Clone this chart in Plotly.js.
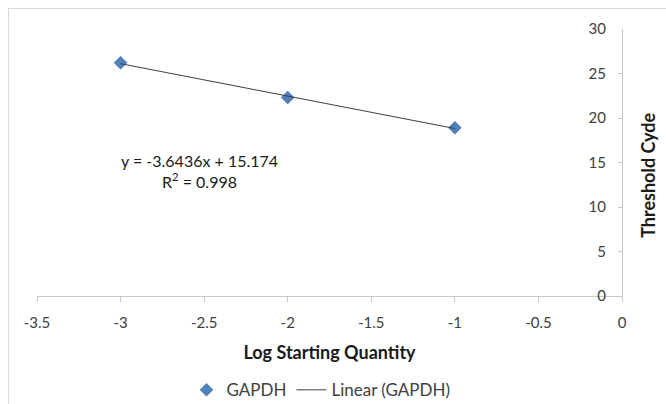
<!DOCTYPE html>
<html><head><meta charset="utf-8">
<script src="https://cdn.plot.ly/plotly-3.0.1.min.js"></script>
<style>
html,body{margin:0;padding:0;background:#fff;overflow:hidden;}
#frame{position:absolute;left:8px;top:8px;width:720px;height:460px;border:1px solid #d9d9d9;}
#chart{position:absolute;left:0;top:0;width:666px;height:404px;}
</style></head><body>
<div id="frame"></div>
<div id="chart"></div>
<script>
const logQty = [-3, -2, -1];
const thresholdCycle = [26.2, 22.3, 18.9];
const trendSlope = -3.6436;
const trendIntercept = 15.174;
const trendX = [-3, -1];
const xTickVals = [-3.5, -3, -2.5, -2, -1.5, -1, -0.5, 0];
const xTickText = ["-3.5", "-3", "-2.5", "-2", "-1.5", "-1", "-0.5", "0"];
const yTickVals = [0, 5, 10, 15, 20, 25, 30];

const font = "Lato, 'Open Sans', sans-serif";
const traces = [
  {x: logQty, y: thresholdCycle, type: 'scatter', mode: 'markers', name: 'GAPDH',
   marker: {symbol: 'diamond', size: 10, color: '#4F81BD', line: {color: '#3d6ea6', width: 0.5}}},
  {x: trendX, y: trendX.map(v => trendSlope * v + trendIntercept), type: 'scatter', mode: 'lines',
   name: 'Linear (GAPDH)', line: {color: '#404040', width: 1}}
];
const layout = {
  width: 666, height: 404,
  paper_bgcolor: 'rgba(0,0,0,0)', plot_bgcolor: 'rgba(0,0,0,0)',
  margin: {l: 37, r: 44, t: 29, b: 108, autoexpand: false},
  font: {family: font, color: '#404040', size: 15},
  showlegend: true,
  legend: {orientation: 'h', x: 0.28, xanchor: 'left', xref: 'container', yref: 'container',
           y: 0.034, yanchor: 'middle',
           font: {family: font, size: 17, color: '#404040'}, itemwidth: 30},
  xaxis: {range: [-3.5, 0], tickvals: xTickVals, ticktext: xTickText, automargin: false,
          showgrid: false, zeroline: false, showline: true, linecolor: '#c8c8c8', linewidth: 1,
          ticks: 'outside', ticklen: 5, tickcolor: '#c8c8c8', ticklabelstandoff: 8,
          ticklabeloverflow: 'allow',
          tickfont: {size: 15, color: '#404040'},
          title: {text: 'Log Starting Quantity', font: {size: 18, color: '#1a1a1a', family: font, weight: 'bold'}, standoff: 16}},
  yaxis: {range: [0, 30], tickvals: yTickVals, side: 'right', automargin: false,
          showgrid: false, zeroline: false, showline: true, linecolor: '#c8c8c8', linewidth: 1,
          ticks: 'inside', ticklen: 4, tickcolor: '#c8c8c8',
          ticklabelposition: 'inside', ticklabelstandoff: 12, ticklabeloverflow: 'allow',
          tickfont: {size: 15, color: '#404040'}},
  annotations: [
    {xref: 'paper', yref: 'paper', x: 0.277, y: 0.469, xanchor: 'center', yanchor: 'middle',
     text: 'y = -3.6436x + 15.174<br>R<sup>2</sup> = 0.998', showarrow: false, align: 'center',
     font: {size: 16, color: '#1a1a1a', family: font}},
    {xref: 'paper', yref: 'paper', x: 1, xshift: 26, y: 0.45, xanchor: 'center', yanchor: 'middle',
     text: 'Threshold Cyde', textangle: -90, showarrow: false,
     font: {size: 18, color: '#1a1a1a', family: font, weight: 'bold'}}
  ]
};
Plotly.newPlot('chart', traces, layout, {staticPlot: true});
</script></body></html>
